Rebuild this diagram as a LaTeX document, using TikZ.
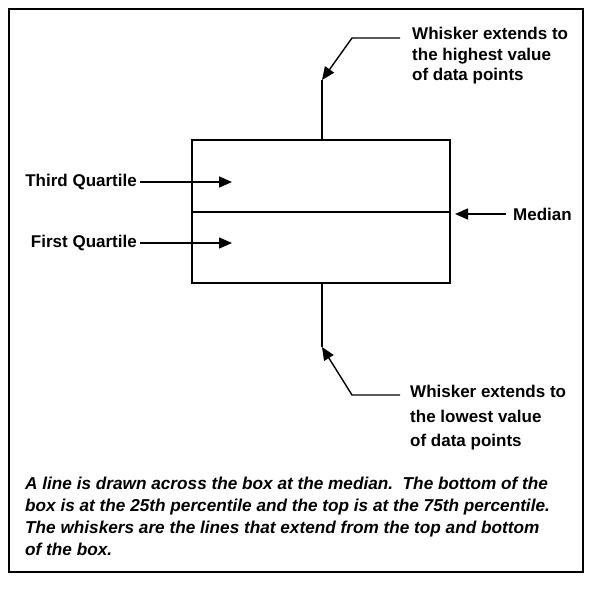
\documentclass[tikz,border=0pt]{standalone}
\usepackage{fontspec}
\setmainfont{Liberation Sans}
\usetikzlibrary{arrows.meta}
\begin{document}
\begin{tikzpicture}[x=1pt,y=-1pt,
  lbl/.style={font=\fontsize{17}{20.5}\selectfont\bfseries, inner sep=0pt, align=left},
  lblwide/.style={font=\fontsize{17}{24.5}\selectfont\bfseries, inner sep=0pt, align=left},
  para/.style={font=\fontsize{17.2}{22}\selectfont\bfseries\itshape, inner sep=0pt, align=left},
  arr/.style={line width=1.4pt, -{Triangle[length=13pt,width=11pt]}},
  ln/.style={line width=1.6pt},
  frame/.style={line width=2pt}]
\useasboundingbox (0,0) rectangle (589,595);
\draw[frame] (9,9) rectangle (583,572);
% box
\node[draw, line width=1.8pt, minimum width=258pt, minimum height=143pt, inner sep=0pt] (box) at (321,211.5) {};
\coordinate (ml) at (192,212);
\coordinate (mr) at (450,212);
\draw[line width=1.8pt] (ml) -- (mr);
% top whisker
\coordinate (wtt) at (322,80);
\draw[ln] (box.north -| wtt) -- (wtt);
\coordinate (tbend) at (352,38);
\coordinate (tend) at (400,38);
\draw[arr] (tend) -- (tbend) -- (wtt);
\node[lbl, anchor=north west] (toptext) at (412,27) {Whisker extends to\\the highest value\\of data points};
% bottom whisker
\coordinate (wbb) at (322,347);
\draw[ln] (box.south -| wbb) -- (wbb);
\coordinate (bbend) at (352,395);
\coordinate (bend) at (400,395);
\draw[arr] (bend) -- (bbend) -- (wbb);
\node[lblwide, anchor=north west] (bottext) at (410,385) {Whisker extends to\\the lowest value\\of data points};
% quartiles
\node[lbl, anchor=east] (third) at (137,182) {Third Quartile};
\coordinate (thirdtip) at (232,182);
\draw[arr] ([xshift=3pt]third.east) -- (thirdtip);
\node[lbl, anchor=east] (first) at (137,243) {First Quartile};
\coordinate (firsttip) at (232,243);
\draw[arr] ([xshift=3pt]first.east) -- (firsttip);
% median
\node[lbl, anchor=west] (median) at (513,214) {Median};
\coordinate (medtip) at (455,214);
\draw[arr] ([xshift=-7pt]median.west) -- (medtip);
% paragraph
\node[para, anchor=north west] (para) at (25,477) {A line is drawn across the box at the median.\ \ The bottom of the\\box is at the 25th percentile and the top is at the 75th percentile.\\The whiskers are the lines that extend from the top and bottom\\of the box.};
\end{tikzpicture}
\end{document}
